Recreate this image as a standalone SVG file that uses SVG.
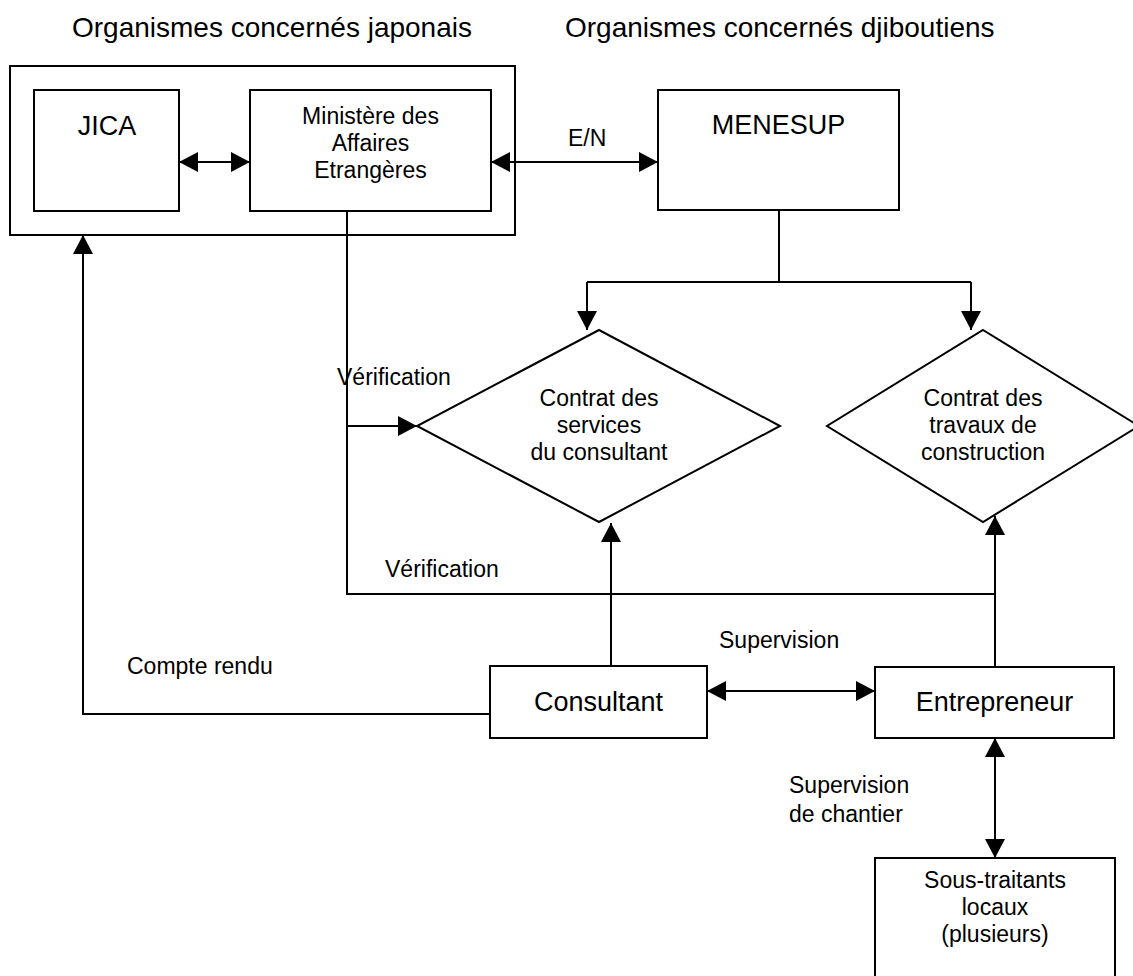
<svg xmlns="http://www.w3.org/2000/svg" width="1133" height="976" viewBox="0 0 1133 976">
  <style>
    .box { fill: #fff; stroke: #000; stroke-width: 2; }
    .frame { fill: none; stroke: #000; stroke-width: 2; }
    .wire { fill: none; stroke: #000; stroke-width: 2; }
    .hd { font-family: "Liberation Sans", Arial, sans-serif; font-size: 28px; fill: #000; }
    .lg { font-family: "Liberation Sans", Arial, sans-serif; font-size: 27px; fill: #000; }
    .sm { font-family: "Liberation Sans", Arial, sans-serif; font-size: 23px; fill: #000; }
    .mid { text-anchor: middle; }
  </style>
  <defs>
    <marker id="arrow" markerUnits="userSpaceOnUse" markerWidth="19" markerHeight="20" refX="19" refY="10" orient="auto-start-reverse">
      <path d="M0,0 L19,10 L0,20 z" fill="#000"/>
    </marker>
  </defs>
  <rect width="1133" height="976" fill="#fff"/>

  <!-- column headings -->
  <text class="hd" x="72" y="37">Organismes concernés japonais</text>
  <text class="hd" x="565" y="37">Organismes concernés djiboutiens</text>

  <!-- Japanese side frame -->
  <g id="japan-frame">
    <rect class="frame" x="10" y="66" width="505" height="169"/>
  </g>

  <g id="jica">
    <rect class="box" x="34" y="90" width="145" height="121"/>
    <text class="lg mid" x="107" y="135">JICA</text>
  </g>

  <g id="ministere">
    <rect class="box" x="250" y="90" width="241" height="121"/>
    <text class="sm mid" x="370.5" y="124">Ministère des</text>
    <text class="sm mid" x="370.5" y="151">Affaires</text>
    <text class="sm mid" x="370.5" y="178">Etrangères</text>
  </g>

  <g id="menesup">
    <rect class="box" x="658" y="90" width="241" height="120"/>
    <text class="lg mid" x="778.5" y="134">MENESUP</text>
  </g>

  <g id="contrat-consultant">
    <polygon class="box" points="599,330 780,426 599,522 417,426"/>
    <text class="sm mid" x="599" y="406">Contrat des</text>
    <text class="sm mid" x="599" y="433">services</text>
    <text class="sm mid" x="599" y="460">du consultant</text>
  </g>

  <g id="contrat-travaux">
    <polygon class="box" points="983,330 1139,426 983,522 827,426"/>
    <text class="sm mid" x="983" y="406">Contrat des</text>
    <text class="sm mid" x="983" y="433">travaux de</text>
    <text class="sm mid" x="983" y="460">construction</text>
  </g>

  <g id="consultant">
    <rect class="box" x="490" y="666" width="217" height="72"/>
    <text class="lg mid" x="598.5" y="711">Consultant</text>
  </g>

  <g id="entrepreneur">
    <rect class="box" x="875" y="667" width="239" height="71"/>
    <text class="lg mid" x="994.5" y="711">Entrepreneur</text>
  </g>

  <g id="sous-traitants">
    <rect class="box" x="875" y="858" width="240" height="140"/>
    <text class="sm mid" x="995" y="888">Sous-traitants</text>
    <text class="sm mid" x="995" y="915">locaux</text>
    <text class="sm mid" x="995" y="942">(plusieurs)</text>
  </g>

  <!-- connectors -->
  <g id="connectors">
    <!-- JICA <-> Ministère -->
    <line class="wire" x1="179" y1="162" x2="250" y2="162" marker-start="url(#arrow)" marker-end="url(#arrow)"/>
    <!-- Ministère <-> MENESUP (E/N) -->
    <line class="wire" x1="491" y1="162" x2="658" y2="162" marker-start="url(#arrow)" marker-end="url(#arrow)"/>
    <!-- MENESUP to both contracts -->
    <polyline class="wire" points="779,210 779,282"/>
    <polyline class="wire" points="587,282 971,282"/>
    <line class="wire" x1="587" y1="282" x2="587" y2="330" marker-end="url(#arrow)"/>
    <line class="wire" x1="971" y1="282" x2="971" y2="330" marker-end="url(#arrow)"/>
    <!-- verification lines from the Ministry -->
    <polyline class="wire" points="347,211 347,594 995,594"/>
    <line class="wire" x1="347" y1="426" x2="417" y2="426" marker-end="url(#arrow)"/>
    <!-- consultant and contractor up to their contracts -->
    <line class="wire" x1="611" y1="666" x2="611" y2="523" marker-end="url(#arrow)"/>
    <line class="wire" x1="995" y1="667" x2="995" y2="516" marker-end="url(#arrow)"/>
    <!-- report back to JICA -->
    <polyline class="wire" points="490,714 83,714 83,235" marker-end="url(#arrow)"/>
    <!-- supervision -->
    <line class="wire" x1="707" y1="691" x2="875" y2="691" marker-start="url(#arrow)" marker-end="url(#arrow)"/>
    <!-- site supervision -->
    <line class="wire" x1="995" y1="738" x2="995" y2="858" marker-start="url(#arrow)" marker-end="url(#arrow)"/>
  </g>

  <!-- connector labels -->
  <text class="sm" x="568" y="146">E/N</text>
  <text class="sm" x="337" y="385">Vérification</text>
  <text class="sm" x="385" y="577">Vérification</text>
  <text class="sm" x="127" y="674">Compte rendu</text>
  <text class="sm" x="719" y="648">Supervision</text>
  <text class="sm" x="789" y="793">Supervision</text>
  <text class="sm" x="789" y="822">de chantier</text>
</svg>
